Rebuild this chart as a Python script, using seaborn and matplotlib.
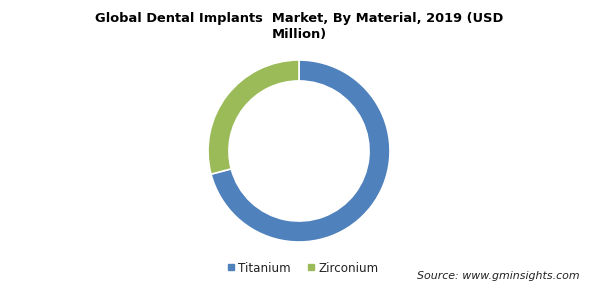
import matplotlib
matplotlib.use("Agg")
import matplotlib.pyplot as plt
from matplotlib.lines import Line2D
import seaborn as sns

categories = ["Titanium", "Zirconium"]
shares = [70.9, 29.1]
colors = ["#4F81BD", "#9BBB59"]
title = "Global Dental Implants  Market, By Material, 2019 (USD\nMillion)"
source = "Source: www.gminsights.com"

sns.set_theme(style="white")
plt.rcParams['font.family'] = ['DejaVu Sans']

W, H = 599, 295
fig = plt.figure(figsize=(W / 100, H / 100), dpi=100)
fig.patch.set_facecolor("white")

cx, cy, r = 299, 151, 91
ax = fig.add_axes([(cx - r) / W, 1 - (cy + r) / H, 2 * r / W, 2 * r / H])
wedges, _ = ax.pie(shares, colors=colors, startangle=90, counterclock=False,
                   radius=1, wedgeprops=dict(width=0.23, edgecolor="white", linewidth=1.2))
ax.set_xlim(-1, 1)
ax.set_ylim(-1, 1)
ax.set_aspect("equal")
ax.axis("off")

fig.text(0.5, 1 - 26.5 / H, title, ha="center", va="center", fontsize=9.4,
         fontweight="bold", color="#000000", linespacing=1.3)

handles = [Line2D([0], [0], marker="s", color="none", markerfacecolor=c,
                  markeredgecolor=c, markersize=4.5) for c in colors]
fig.legend(handles, categories, loc="center", bbox_to_anchor=(303 / W, 1 - 268 / H),
           ncol=2, frameon=False, fontsize=8.6, handlelength=0.6, handletextpad=0.35,
           columnspacing=1.4, labelcolor="#222222")

fig.text(580 / W, 1 - 276 / H, source, ha="right", va="center", fontsize=7.9,
         style="italic", color="#222222")

fig.savefig("out.png", dpi=100, facecolor="white")
